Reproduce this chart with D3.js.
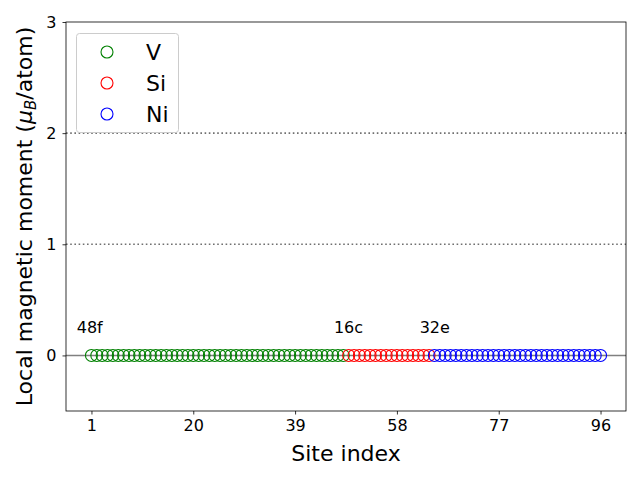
<!DOCTYPE html>
<html><head><meta charset="utf-8">
<script src="https://cdn.jsdelivr.net/npm/d3@7"></script>
<style>body{margin:0;background:#fff}svg{font-family:"DejaVu Sans",sans-serif}</style>
</head><body><svg id="c" width="640" height="480"></svg>
<script>
const species = ["V","Si","Ni"];
const colors = ["green","red","blue"];
const siteCounts = [48,16,32];
const wyckoff = ["48f","16c","32e"];
const momentsV = Array(48).fill(0);
const momentsSi = Array(16).fill(0);
const momentsNi = Array(32).fill(0);
const xTicks = [1,20,39,58,77,96];
const yTicks = [0,1,2,3];
const refLines = [1,2];

const svg = d3.select("#c");
const L=66,R=626,T=22,B=411;
const x = d3.scaleLinear().domain([-3.75,100.75]).range([L,R]);
const y = d3.scaleLinear().domain([-0.5,3]).range([B,T]);

svg.selectAll(".ref").data(refLines).join("line")
  .attr("x1",L).attr("x2",R).attr("y1",d=>y(d)).attr("y2",d=>y(d))
  .attr("stroke","#707070").attr("stroke-width",1.6).attr("stroke-dasharray","1.6,2.6");
svg.append("line").attr("x1",L).attr("x2",R).attr("y1",y(0)).attr("y2",y(0))
  .attr("stroke","#808080").attr("stroke-width",1.5);

const allMoments=[momentsV,momentsSi,momentsNi];
let start=1;
allMoments.forEach((arr,i)=>{
  const s0=start;
  svg.append("g").selectAll("circle").data(arr).join("circle")
    .attr("cx",(d,j)=>x(s0+j)).attr("cy",d=>y(d)).attr("r",6)
    .attr("fill","none").attr("stroke",colors[i]).attr("stroke-width",1.1);
  svg.append("text").attr("x",x(s0-2.75)).attr("y",y(0.2)).attr("font-size",16).text(wyckoff[i]);
  start+=siteCounts[i];
});

const xa = svg.append("g").attr("transform",`translate(0,${B})`).call(d3.axisBottom(x).tickValues(xTicks).tickFormat(d3.format("d")).tickSize(3.5).tickPadding(5));
const ya = svg.append("g").attr("transform",`translate(${L},0)`).call(d3.axisLeft(y).tickValues(yTicks).tickFormat(d3.format("d")).tickSize(3.5).tickPadding(6));
[xa,ya].forEach(a=>{a.select(".domain").remove();a.selectAll("text").attr("font-size",16).attr("fill","#000").attr("font-family","DejaVu Sans");a.selectAll("line").attr("stroke","#000").attr("stroke-width",0.8);});
svg.append("rect").attr("x",L).attr("y",T).attr("width",R-L).attr("height",B-T).attr("fill","none").attr("stroke","#000").attr("stroke-width",0.8);

svg.append("text").attr("x",(L+R)/2).attr("y",461).attr("text-anchor","middle").attr("font-size",22).text("Site index");
const yl=svg.append("text").attr("transform",`translate(32,${(T+B)/2}) rotate(-90)`).attr("text-anchor","middle").attr("font-size",22);
yl.append("tspan").text("Local magnetic moment (");
yl.append("tspan").attr("font-style","italic").text("μ");
yl.append("tspan").attr("font-style","italic").attr("font-size",15).attr("dy",4).text("B");
yl.append("tspan").attr("dy",-4).text("/atom)");

const lg=svg.append("g");
lg.append("rect").attr("x",76.5).attr("y",33.5).attr("width",102).attr("height",99).attr("rx",3)
  .attr("fill","#fff").attr("fill-opacity",0.8).attr("stroke","#ccc").attr("stroke-width",1);
species.forEach((s,i)=>{
  const yy=52+i*31;
  lg.append("circle").attr("cx",107).attr("cy",yy).attr("r",6).attr("fill","none").attr("stroke",colors[i]).attr("stroke-width",1.1);
  lg.append("text").attr("x",146).attr("y",yy+8).attr("font-size",22).text(s);
});
</script></body></html>
